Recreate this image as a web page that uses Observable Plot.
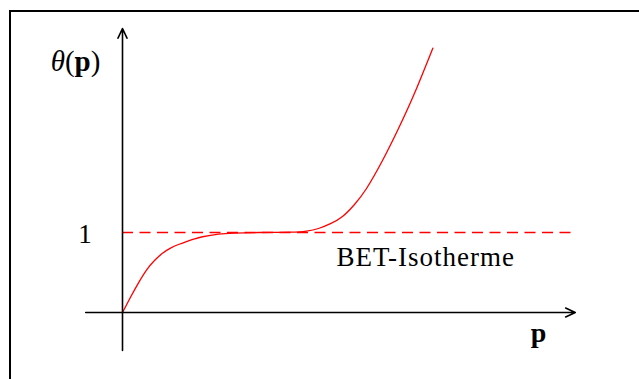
<!DOCTYPE html>
<html>
<head>
<meta charset="utf-8">
<script src="https://cdn.jsdelivr.net/npm/d3@7"></script>
<script src="https://cdn.jsdelivr.net/npm/@observablehq/plot@0.6"></script>
<style>
  html, body { margin: 0; padding: 0; background: #fff; overflow: hidden; }
  #frame { position: absolute; left: 9px; top: 10px; width: 1000px; height: 1000px;
           border-left: 2px solid #000; border-top: 2px solid #000; box-sizing: border-box; }
  #chart { position: absolute; left: 0; top: 0; }
</style>
</head>
<body>
<div id="frame"></div>
<div id="chart"></div>
<script>
// BET isotherm curve (p in axis units, theta in monolayer units)
const pValues     = [0, 0.1, 0.2, 0.3, 0.4, 0.5, 0.6, 0.7, 0.8, 0.9, 1.0, 1.2, 1.4, 1.7, 2.1, 2.3, 2.45, 2.6, 2.75, 2.9, 3.05, 3.25, 3.45, 3.65, 3.879];
const thetaValues = [0, 0.19, 0.37, 0.53, 0.65, 0.74, 0.805, 0.85, 0.887, 0.92, 0.947, 0.98, 0.993, 1.0, 1.004, 1.018, 1.05, 1.11, 1.2, 1.35, 1.55, 1.9, 2.3, 2.74, 3.304];
const monolayer = [1];
const yTickLabels = ["1"];
const curveLabel = "BET-Isotherme";
const xAxisLabel = "p";
const yAxisLabel = "θ(p)";

const curve = pValues.map((p, i) => ({p, theta: thetaValues[i]}));
const serif = "Liberation Serif";

const chart = Plot.plot({
  width: 639,
  height: 379,
  margin: 0,
  style: {background: "transparent", overflow: "visible"},
  x: {domain: [-1.525, 6.4625], axis: null},
  y: {domain: [-0.8375, 3.9], axis: null},
  marks: [
    Plot.ruleY(monolayer, {x1: 0, x2: 5.68, stroke: "#ff0000", strokeWidth: 1.3, strokeDasharray: "11,6.5"}),
    Plot.line(curve, {x: "p", y: "theta", stroke: "#ff0000", strokeWidth: 1.3, curve: "natural"}),
    Plot.arrow([{x1: -0.46, y1: 0, x2: 5.66, y2: 0}], {x1: "x1", y1: "y1", x2: "x2", y2: "y2", stroke: "#000", strokeWidth: 1.6, headLength: 10, headAngle: 50}),
    Plot.arrow([{x1: 0, y1: -0.475, x2: 0, y2: 3.55}], {x1: "x1", y1: "y1", x2: "x2", y2: "y2", stroke: "#000", strokeWidth: 1.6, headLength: 10, headAngle: 50}),
    Plot.text(yTickLabels, {x: -0.469, y: 0.875, text: d => d, fontFamily: serif, fontSize: 27, lineAnchor: "bottom", textAnchor: "middle", fill: "#000"}),
    Plot.text([yAxisLabel], {x: -0.5875, y: 3.025, text: d => d, fontFamily: serif, fontSize: 29, lineAnchor: "bottom", textAnchor: "middle", fill: "#000"}),
    Plot.text([xAxisLabel], {x: 5.2, y: -0.3625, text: d => d, fontFamily: serif, fontSize: 28, fontWeight: "bold", lineAnchor: "bottom", textAnchor: "middle", fill: "#000"}),
    Plot.text([curveLabel], {x: 2.675, y: 0.5875, text: d => d, fontFamily: serif, fontSize: 27, lineAnchor: "bottom", textAnchor: "start", fill: "#000"})
  ]
});

// mixed styling for θ(p): italic theta, bold p
chart.querySelectorAll("text").forEach(t => {
  if (t.textContent === yAxisLabel) {
    t.innerHTML = '<tspan font-style="italic">θ</tspan>(<tspan font-weight="bold">p</tspan>)';
  }
  if (t.textContent === curveLabel) {
    t.setAttribute("letter-spacing", "1");
  }
});

document.getElementById("chart").appendChild(chart);
</script>
</body>
</html>
